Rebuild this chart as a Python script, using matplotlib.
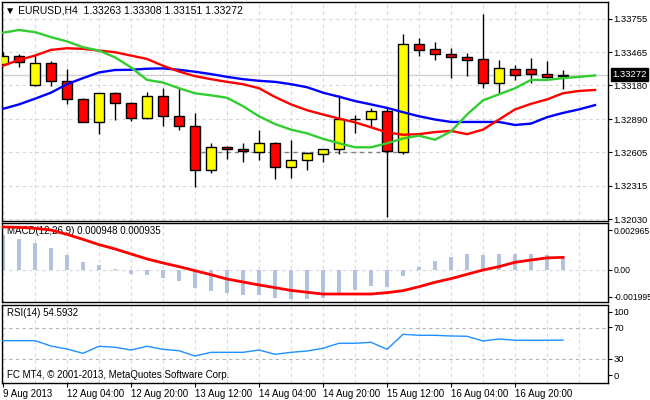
import numpy as np
import matplotlib.pyplot as plt
from matplotlib.transforms import blended_transform_factory

plt.rcParams['font.family'] = ['Liberation Sans', 'DejaVu Sans']

# EURUSD H4 candles
opens = [1.33364, 1.33430, 1.33181, 1.33372, 1.33216, 1.33059, 1.32868, 1.33112, 1.33025, 1.32900,
         1.33086, 1.32920, 1.32833, 1.32451, 1.32651, 1.32636, 1.32607, 1.32686, 1.32477, 1.32534,
         1.32587, 1.32634, 1.32891, 1.32894, 1.32958, 1.32607, 1.33532, 1.33494, 1.33453, 1.33427,
         1.33407, 1.33199, 1.33320, 1.33320, 1.33277, 1.33263]
highs = [1.33465, 1.33451, 1.33451, 1.33392, 1.33320, 1.33073, 1.33115, 1.33123, 1.33036, 1.33123,
         1.33155, 1.33160, 1.32938, 1.32686, 1.32662, 1.32680, 1.32793, 1.32694, 1.32706, 1.32610,
         1.32636, 1.33094, 1.32929, 1.32986, 1.32984, 1.33618, 1.33584, 1.33549, 1.33505, 1.33456,
         1.33792, 1.33401, 1.33358, 1.33419, 1.33392, 1.33308]
lows = [1.33360, 1.33334, 1.33178, 1.33175, 1.33016, 1.32862, 1.32764, 1.32886, 1.32877, 1.32894,
        1.32833, 1.32795, 1.32303, 1.32430, 1.32543, 1.32517, 1.32534, 1.32378, 1.32387, 1.32456,
        1.32517, 1.32587, 1.32769, 1.32819, 1.32051, 1.32587, 1.33430, 1.33401, 1.33239, 1.33262,
        1.33160, 1.33112, 1.33227, 1.33199, 1.33239, 1.33151]
closes = [1.33436, 1.33378, 1.33372, 1.33219, 1.33059, 1.32868, 1.33112, 1.33025, 1.32900, 1.33086,
          1.32920, 1.32833, 1.32451, 1.32651, 1.32634, 1.32616, 1.32686, 1.32477, 1.32538, 1.32601,
          1.32634, 1.32891, 1.32891, 1.32958, 1.32616, 1.33532, 1.33482, 1.33451, 1.33423, 1.33395,
          1.33199, 1.33329, 1.33268, 1.33277, 1.33251, 1.33272]

# moving averages (shifted 2 bars forward)
ma_green = [1.33633, 1.33656, 1.33638, 1.33595, 1.33558, 1.33508, 1.33479, 1.33421, 1.33334, 1.33227,
            1.33204, 1.33155, 1.33112, 1.33094, 1.33073, 1.33001, 1.32914, 1.32847, 1.32799, 1.32767,
            1.32720, 1.32682, 1.32647, 1.32647, 1.32682, 1.32723, 1.32747, 1.32712, 1.32784, 1.32929,
            1.33051, 1.33103, 1.33155, 1.33227, 1.33227, 1.33242, 1.33253, 1.33265]
ma_red = [1.33349, 1.33399, 1.33436, 1.33485, 1.33499, 1.33494, 1.33479, 1.33465, 1.33436, 1.33407,
          1.33349, 1.33299, 1.33259, 1.33233, 1.33210, 1.33190, 1.33155, 1.33080, 1.33016, 1.32966,
          1.32929, 1.32894, 1.32862, 1.32819, 1.32775, 1.32755, 1.32760, 1.32778, 1.32788, 1.32760,
          1.32799, 1.32886, 1.32973, 1.33021, 1.33059, 1.33112, 1.33132, 1.33140]
ma_blue = [1.32978, 1.33016, 1.33065, 1.33117, 1.33190, 1.33242, 1.33291, 1.33312, 1.33314, 1.33323,
           1.33326, 1.33314, 1.33297, 1.33277, 1.33253, 1.33233, 1.33219, 1.33210, 1.33190, 1.33164,
           1.33117, 1.33082, 1.33045, 1.33016, 1.32986, 1.32949, 1.32914, 1.32886, 1.32865, 1.32865,
           1.32865, 1.32865, 1.32839, 1.32851, 1.32906, 1.32943, 1.32973, 1.33010]

macd_hist = [0.00259, 0.00230, 0.00203, 0.00166, 0.00114, 0.00059, 0.00037, 0.00007, -0.00030, -0.00037,
             -0.00057, -0.00082, -0.00131, -0.00156, -0.00168, -0.00183, -0.00188, -0.00205, -0.00215, -0.00215,
             -0.00205, -0.00168, -0.00148, -0.00116, -0.00124, -0.00044, 0.00022, 0.00067, 0.00096, 0.00121,
             0.00114, 0.00121, 0.00121, 0.00121, 0.00114, 0.000948]
macd_signal = [0.00319, 0.00316, 0.00309, 0.00296, 0.00264, 0.00227, 0.00188, 0.00156, 0.00119, 0.00082,
               0.00052, 0.00025, -0.00005, -0.00035, -0.00067, -0.00089, -0.00111, -0.00131, -0.00151, -0.00165,
               -0.00178, -0.00178, -0.00178, -0.00178, -0.00168, -0.00153, -0.00124, -0.00091, -0.00064, -0.00032,
               0.00000, 0.00025, 0.00057, 0.00074, 0.00090, 0.000935]
rsi = [53.9, 53.9, 53.9, 46.9, 43.0, 37.4, 46.6, 45.3, 41.7, 46.6,
       42.6, 40.8, 33.9, 38.7, 38.7, 38.7, 41.7, 36.1, 38.7, 40.4,
       44.0, 50.5, 50.5, 51.8, 42.6, 62.2, 60.9, 60.9, 60.0, 59.6,
       53.5, 56.1, 54.4, 54.4, 54.4, 54.59]

tick_bars = [0, 4, 8, 12, 16, 20, 24, 28, 32]
tick_labels = ['9 Aug 2013', '12 Aug 04:00', '12 Aug 20:00', '13 Aug 12:00', '14 Aug 04:00',
               '14 Aug 20:00', '15 Aug 12:00', '16 Aug 04:00', '16 Aug 20:00']
price_ticks = [1.33755, 1.33465, 1.33180, 1.32890, 1.32605, 1.32315, 1.32030]
last_price = 1.33272
level_price = 1.32605
macd_ticks = [0.002965, 0.0, -0.001995]
macd_tick_labels = ['0.002965', '0.00', '-0.001995']

# ---- layout (pixel based, 650x400)
W, H = 650, 400
fig = plt.figure(figsize=(6.5, 4), dpi=100)
fig.patch.set_facecolor('white')


def panel(top, bottom):
    return fig.add_axes([2 / W, 1 - bottom / H, 606 / W, (bottom - top) / H])


ax = panel(2, 221)
ax_macd = panel(222.5, 301.5)
ax_rsi = panel(305, 382.7)

xlim = (-0.0625, 37.81)
grid_kw = dict(color='#d8d8d8', lw=0.8, ls=(0, (3, 3)), zorder=0)

for a in (ax, ax_macd, ax_rsi):
    a.set_xlim(*xlim)
    for s in a.spines.values():
        s.set_color('black')
        s.set_linewidth(1)
    for xg in range(0, 38, 2):
        a.axvline(xg, **grid_kw)
    a.yaxis.tick_right()
    a.tick_params(axis='y', direction='out', length=3, labelsize=6.8, pad=1, colors='black')
    a.tick_params(axis='x', length=0, labelbottom=False)

# ---- price panel
x = np.arange(len(opens))
o = np.array(opens); c = np.array(closes)
body_col = np.where(c > o, '#ffff00', np.where(c < o, '#ff0000', 'black'))

ax.vlines(x, lows, highs, color='black', lw=1, zorder=3)
ax.bar(x, np.abs(c - o), bottom=np.minimum(o, c), width=0.6, color=body_col,
       edgecolor='black', linewidth=1, zorder=4)

xm = np.arange(len(ma_green))
ax.plot(xm, ma_blue, color='#0000ff', lw=1.7, zorder=5)
ax.plot(xm, ma_red, color='#ff0000', lw=1.7, zorder=5)
ax.plot(xm, ma_green, color='#32cd32', lw=1.7, zorder=5)

for p in price_ticks:
    ax.axhline(p, **grid_kw)
ax.axhline(last_price, color='#d0d0d0', lw=1, zorder=1)
ax.hlines(level_price, 12.4, 25, color='#808080', lw=1, ls=(0, (3, 3)), zorder=1)

ax.set_ylim(1.32013, 1.33897)
ax.set_yticks(price_ticks)
ax.set_yticklabels(['%.5f' % p for p in price_ticks])

tr = blended_transform_factory(ax.transAxes, ax.transData)
ax.text(1.007, last_price, '1.33272', transform=tr, ha='left', va='center', fontsize=6.8,
        color='white', bbox=dict(facecolor='black', edgecolor='black', pad=1.2), zorder=10, clip_on=False)

ax.text(0.005, 0.963, '\u25bc EURUSD,H4  1.33263 1.33308 1.33151 1.33272', transform=ax.transAxes,
        ha='left', va='center', fontsize=7.5, color='black')

# ---- MACD panel
ax_macd.bar(x, macd_hist, width=0.22, color='#b0c4de', zorder=2)
ax_macd.plot(x, macd_signal, color='#ff0000', lw=2, zorder=3)
ax_macd.axhline(0, **grid_kw)
ax_macd.set_ylim(-0.002335, 0.003521)
ax_macd.set_yticks(macd_ticks)
ax_macd.set_yticklabels(macd_tick_labels)
ax_macd.tick_params(axis='y', labelsize=6.2)
ax_macd.text(0.008, 0.892, 'MACD(12,26,9) 0.000948 0.000935', transform=ax_macd.transAxes,
             ha='left', va='center', fontsize=7, color='black', zorder=1)

# ---- RSI panel
ax_rsi.plot(x, rsi, color='#1e90ff', lw=1, zorder=3)
for lvl in (70, 30):
    ax_rsi.axhline(lvl, color='#b4b4b4', lw=0.8, ls=(0, (3, 3)), zorder=1)
ax_rsi.set_ylim(-0.9, 100.4)
ax_rsi.set_yticks([91.6, 71.3, 30, 9.1])
ax_rsi.set_yticklabels(['100', '70', '30', '0'])
ax_rsi.text(0.008, 0.897, 'RSI(14) 54.5932', transform=ax_rsi.transAxes,
            ha='left', va='center', fontsize=7, color='black')
ax_rsi.text(0.008, 0.099, 'FC MT4, \u00a9 2001-2013, MetaQuotes Software Corp.', transform=ax_rsi.transAxes,
            ha='left', va='center', fontsize=7, color='black')

ax_rsi.set_xticks(tick_bars)
ax_rsi.set_xticklabels(tick_labels, ha='left')
ax_rsi.tick_params(axis='x', length=3, direction='out', labelbottom=True, labelsize=7, pad=1.5)

fig.savefig('out.png', dpi=100, facecolor='white')
